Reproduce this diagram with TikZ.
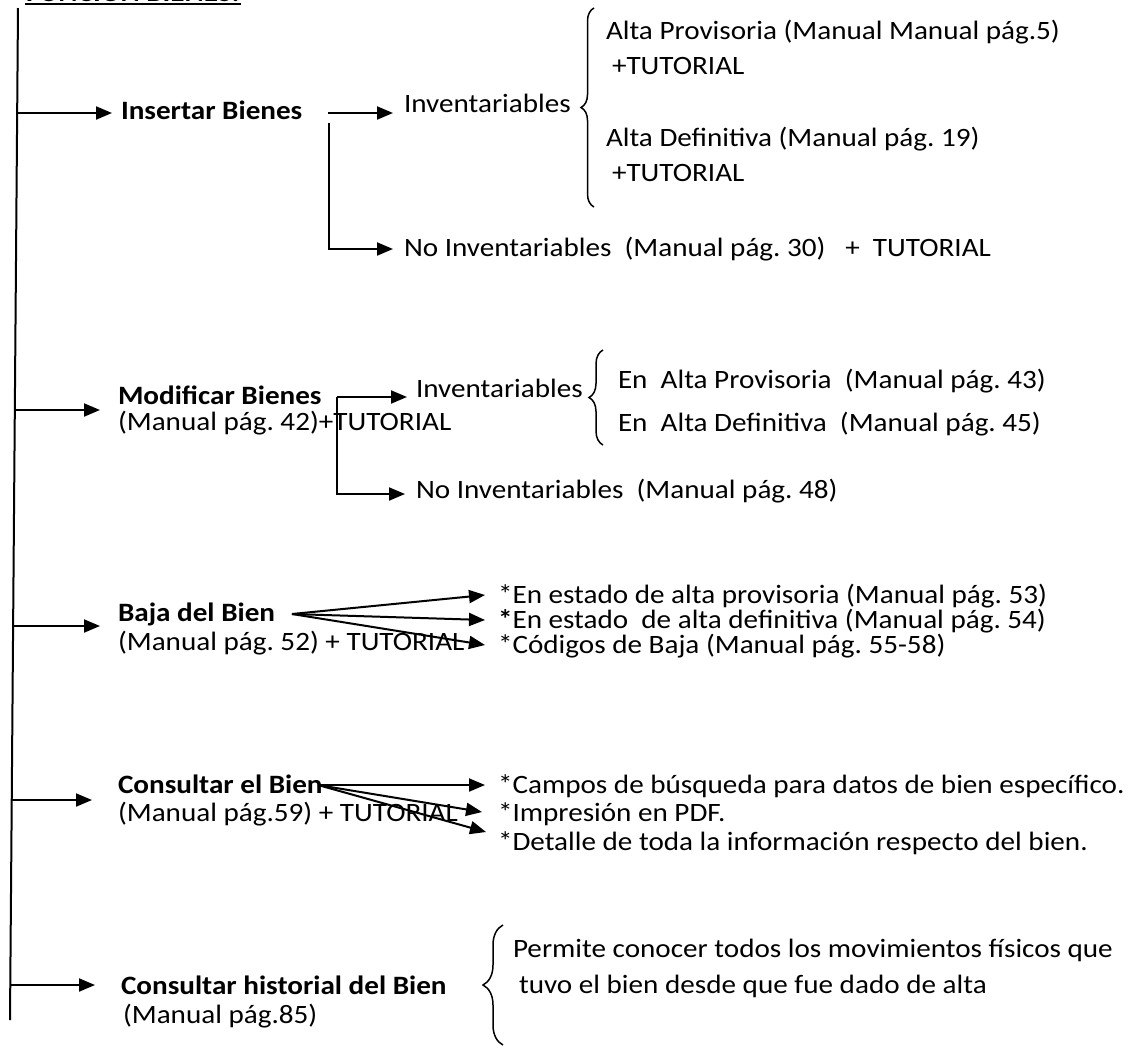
\documentclass[tikz,border=0pt]{standalone}
\usepackage{fontspec}
\setmainfont{Carlito}[FakeStretch=1.1]
\usetikzlibrary{arrows.meta,decorations.pathreplacing}
\frenchspacing
\begin{document}
\begin{tikzpicture}[x=1pt,y=-1pt,line width=2pt,
  txt/.style={anchor=base west, inner sep=0pt, font=\fontsize{26.5}{32}\selectfont},
  bold/.style={txt, font=\fontsize{26.5}{32}\selectfont\bfseries},
  arr/.style={-{Triangle[length=16pt,width=13pt]}},
  llave/.style={decorate, decoration={brace, amplitude=#1}, line width=1.5pt}]
% Page size and clip (the title is cut off at the top)
\useasboundingbox (0,0) rectangle (1134,1050);
\clip (0,0) rectangle (1134,1050);

% Title
\node[bold] (title) at (25,1) {FUNCIÓN BIENES:};
\draw[line width=2.5pt] ([yshift=-3pt]title.base west) -- ([yshift=-3pt]title.base east);

% Main vertical line
\coordinate (top) at (18,8);
\coordinate (bottom) at (10,1020);
\draw (top) -- (bottom);

% Insertar Bienes
\coordinate (m1) at (17,113);
\node[bold] (insertar) at (120,119) {Insertar Bienes};
\draw[arr, shorten >=8pt] (m1) -- (m1 -| insertar.west);
\coordinate (f1) at (328,113);
\coordinate (g1) at (329,123);
\node[txt] (inv1) at (403,112) {Inventariables};
\node[txt] (noinv1) at (403,256) {No Inventariables\ \ (Manual pág. 30)\ \ \ +\ \ TUTORIAL};
\draw[arr, shorten >=10pt] (f1) -- (f1 -| inv1.west);
\draw[arr, shorten >=10pt] (g1) |- ([yshift=7pt]noinv1.base west);
\draw[llave=13pt] (594,207) -- (594,8);
\node[txt] (ap1) at (605,39) {Alta Provisoria (Manual Manual pág.5)};
\node[txt] (tut1) at (611,74) {+TUTORIAL};
\node[txt] (ad1) at (605,146) {Alta Definitiva (Manual pág. 19)};
\node[txt] (tut2) at (611,181) {+TUTORIAL};

% Modificar Bienes
\coordinate (m2) at (15,410);
\node[bold] (modificar) at (117,404) {Modificar Bienes};
\node[txt] (pag42) at (117,430) {(Manual pág. 42)+TUTORIAL};
\draw[arr, shorten >=17pt] (m2) -- (m2 -| modificar.west);
\coordinate (f2) at (337,397);
\node[txt] (inv2) at (415,397) {Inventariables};
\node[txt] (noinv2) at (415,498) {No Inventariables\ \ (Manual pág. 48)};
\draw[arr, shorten >=8pt] (f2) -- (f2 -| inv2.west);
\draw[arr, shorten >=10pt] (f2) |- ([yshift=4pt]noinv2.base west);
\draw[llave=14pt] (603,445) -- (603,350);
\node[txt] (ap2) at (617,388) {En\ \ Alta Provisoria\ \ (Manual pág. 43)};
\node[txt] (ad2) at (617,431) {En\ \ Alta Definitiva\ \ (Manual pág. 45)};

% Baja del Bien
\coordinate (m3) at (13,626);
\node[bold] (baja) at (117,621) {Baja del Bien};
\node[txt] (pag52) at (117,650) {(Manual pág. 52) + TUTORIAL};
\draw[arr, shorten >=17pt] (m3) -- (m3 -| baja.west);
\coordinate (f3) at (292,614);
\node[txt] (est1) at (497,603) {*En estado de alta provisoria (Manual pág. 53)};
\node[txt] (est2) at (497,628) {\textbf{*}En estado\ \ de alta definitiva (Manual pág. 54)};
\node[txt] (cod) at (497,653) {*Códigos de Baja (Manual pág. 55-58)};
\foreach \n in {est1,est2,cod}
  \draw[arr] (f3) -- ([shift={(-12pt,8pt)}]\n.base west);

% Consultar el Bien
\coordinate (m4) at (12,800);
\node[bold] (consultar) at (117,793) {Consultar el Bien};
\node[txt] (pag59) at (117,821) {(Manual pág.59) + TUTORIAL};
\draw[arr, shorten >=25pt] (m4) -- (m4 -| consultar.west);
\coordinate (f4) at (318,785);
\node[txt] (campos) at (497,793) {*Campos de búsqueda para datos de bien específico.};
\node[txt] (impr) at (497,821) {*Impresión en PDF.};
\node[txt] (detalle) at (497,850) {*Detalle de toda la información respecto del bien.};
\draw[arr] (f4) -- ([shift={(-12pt,8pt)}]campos.base west);
\draw[arr] (f4) -- ([shift={(-15pt,9pt)}]impr.base west);
\draw[arr] (f4) -- ([shift={(-11pt,18pt)}]detalle.base west);

% Consultar historial del Bien
\coordinate (m5) at (10,985);
\node[bold] (historial) at (120,994) {Consultar historial del Bien};
\node[txt] (pag85) at (122,1023) {(Manual pág.85)};
\draw[arr, shorten >=25pt] (m5) -- (m5 -| historial.west);
\draw[llave=20pt] (503,1045) -- (503,925);
\node[txt] (permite) at (512,957) {Permite conocer todos los movimientos físicos que};
\node[txt] (tuvo) at (518,993) {tuvo el bien desde que fue dado de alta};
\end{tikzpicture}
\end{document}
